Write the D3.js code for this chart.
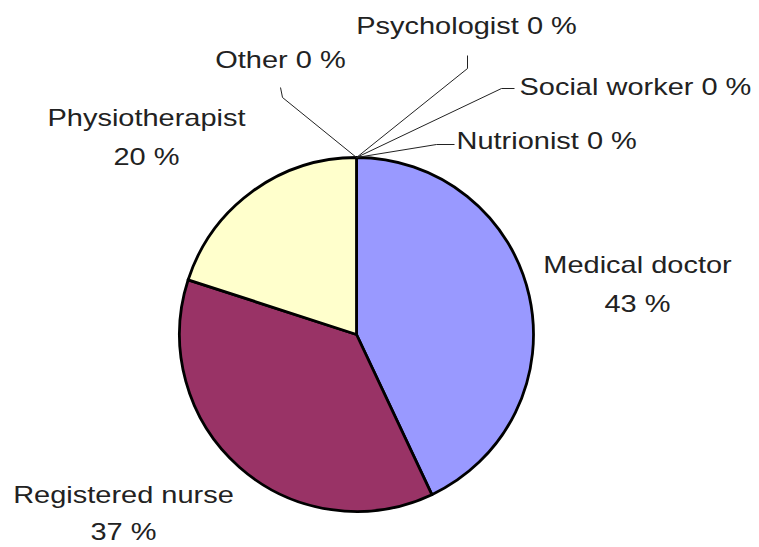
<!DOCTYPE html>
<html>
<head>
<meta charset="utf-8">
<script src="https://cdn.jsdelivr.net/npm/d3@7"></script>
<style>
  body { margin: 0; background: #fff; }
  text { font-family: "Liberation Sans", Arial, sans-serif; fill: #222; }
</style>
</head>
<body>
<div id="chart"></div>
<script>
// chart data
const categories = ['Medical doctor', 'Registered nurse', 'Physiotherapist', 'Other', 'Psychologist', 'Social worker', 'Nutrionist'];
const shares = [43, 37, 20, 0, 0, 0, 0];
const sliceColors = ['#9999ff', '#993366', '#ffffcc', '#ffffff', '#ffffff', '#ffffff', '#ffffff'];

const svgWidth = 759;
const svgHeight = 547;
const cx = 356.5;
const cy = 334.5;
const radius = 177;
const stretch = 1.26;  // the original labels are drawn wide

// label anchors relative to the pie centre (layout only)
const labelLayout = {
    'Medical doctor': { dx: 281, dy: -62, gap: 40, anchor: 'middle', twoLines: true },
    'Registered nurse': { dx: -233, dy: 168, gap: 38, anchor: 'middle', twoLines: true },
    'Physiotherapist': { dx: -210, dy: -209, gap: 40, anchor: 'middle', twoLines: true },
    'Other': { dx: -76, dy: -267, anchor: 'middle', elbow: [-74, -237], end: [-76, -247] },
    'Psychologist': { dx: 110, dy: -301, anchor: 'middle', elbow: [111, -266], end: [111, -279] },
    'Social worker': { dx: 163, dy: -240, anchor: 'start', elbow: [145, -246], end: [158, -246] },
    'Nutrionist': { dx: 100, dy: -186, anchor: 'start', elbow: [80, -190], end: [98, -190] }
};

const data = categories.map((name, i) => ({ name, value: shares[i], color: sliceColors[i] }));

const svg = d3.select('#chart')
    .append('svg')
    .attr('width', svgWidth)
    .attr('height', svgHeight);

const bounds = svg.append('g')
    .attr('transform', `translate(${cx}, ${cy})`);

const pie = d3.pie()
    .sort(null)
    .value(d => d.value);

const arc = d3.arc()
    .innerRadius(0)
    .outerRadius(radius);

const arcs = pie(data);

bounds.selectAll('path.slice')
    .data(arcs.filter(d => d.data.value > 0))
    .join('path')
    .attr('class', 'slice')
    .attr('d', arc)
    .attr('fill', d => d.data.color)
    .attr('stroke', '#000')
    .attr('stroke-width', 2.8)
    .attr('stroke-linejoin', 'round');

// leader lines for the empty slices start on the rim
const rimPoint = a => [radius * Math.sin(a), -radius * Math.cos(a)];

bounds.selectAll('polyline.leader')
    .data(arcs.filter(d => d.data.value === 0))
    .join('polyline')
    .attr('class', 'leader')
    .attr('points', d => {
        const lay = labelLayout[d.data.name];
        return [rimPoint(d.startAngle), lay.elbow, lay.end].map(p => p.join(',')).join(' ');
    })
    .attr('fill', 'none')
    .attr('stroke', '#222')
    .attr('stroke-width', 1);

const labels = bounds.selectAll('g.label')
    .data(arcs)
    .join('g')
    .attr('class', 'label')
    .attr('transform', d => {
        const lay = labelLayout[d.data.name];
        return `translate(${lay.dx}, ${lay.dy}) scale(${stretch}, 1)`;
    });

labels.each(function(d) {
    const lay = labelLayout[d.data.name];
    const g = d3.select(this);
    const pct = `${Math.round(d.data.value)} %`;
    if (lay.twoLines) {
        g.append('text')
            .attr('text-anchor', lay.anchor)
            .attr('font-size', 23)
            .text(d.data.name);
        g.append('text')
            .attr('text-anchor', lay.anchor)
            .attr('font-size', 23)
            .attr('y', lay.gap)
            .text(pct);
    } else {
        g.append('text')
            .attr('text-anchor', lay.anchor)
            .attr('font-size', 23)
            .text(`${d.data.name} ${pct}`);
    }
});
</script>
</body>
</html>
